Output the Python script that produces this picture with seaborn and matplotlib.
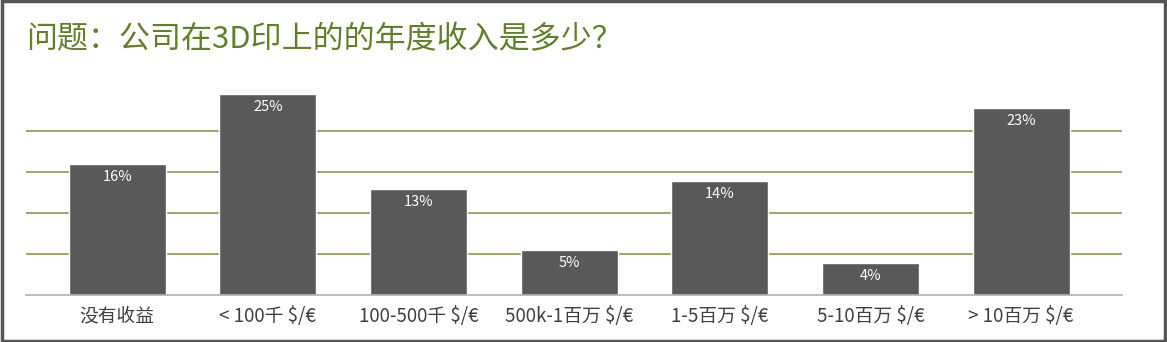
import matplotlib
matplotlib.use("Agg")
import matplotlib.pyplot as plt
import seaborn as sns
import pandas as pd
from matplotlib.patches import Rectangle

categories = ["没有收益", "< 100千 $/€", "100-500千 $/€", "500k-1百万 $/€",
              "1-5百万 $/€", "5-10百万 $/€", "> 10百万 $/€"]
values = [16.0, 24.6, 12.9, 5.45, 13.9, 3.9, 22.9]
labels = ["16%", "25%", "13%", "5%", "14%", "4%", "23%"]
title = "问题：公司在3D印上的的年度收入是多少？"

sns.set_theme(style="white")
plt.rcParams['font.family'] = ['Noto Sans CJK SC', 'DejaVu Sans']

df = pd.DataFrame({"cat": categories, "val": values})

fig = plt.figure(figsize=(11.67, 3.42), dpi=100)
ax = fig.add_axes([26/1167, 47.5/342, 1096/1167, 204/342])

sns.barplot(data=df, x="cat", y="val", color="#595959", saturation=1,
            width=0.644, ax=ax, zorder=3)
ax.set_xlim(-0.606, 6.67)
ax.set_ylim(0, 25)
ax.set_yticks([5, 10, 15, 20])
ax.yaxis.grid(True, color="#7d8f3e", linewidth=1.1, zorder=0)
ax.tick_params(axis='y', left=False, labelleft=False)
ax.tick_params(axis='x', bottom=False, labelsize=13.5, colors="#404040", pad=2)
for s in ["top", "left", "right"]:
    ax.spines[s].set_visible(False)
ax.spines["bottom"].set_color("#b0b0b0")
ax.spines["bottom"].set_linewidth(1.2)
ax.spines["bottom"].set_zorder(4)
ax.set_xlabel("")
ax.set_ylabel("")

for p, lab in zip(ax.patches, labels):
    x = p.get_x() + p.get_width() / 2
    ax.annotate(lab, (x, p.get_height()), xytext=(0, -9.5), textcoords="offset points",
                ha="center", va="center", color="white", fontsize=10.5, zorder=5)

fig.text(26/1167, 1 - 40/342, title, color="#62802a", fontsize=22.3,
         ha="left", va="center")

fig.patches.append(Rectangle((0.0015, 0.004), 0.997, 0.992, transform=fig.transFigure,
                             fill=False, edgecolor="#555555", linewidth=2.5))

fig.savefig("out.png", dpi=100, facecolor="white")
